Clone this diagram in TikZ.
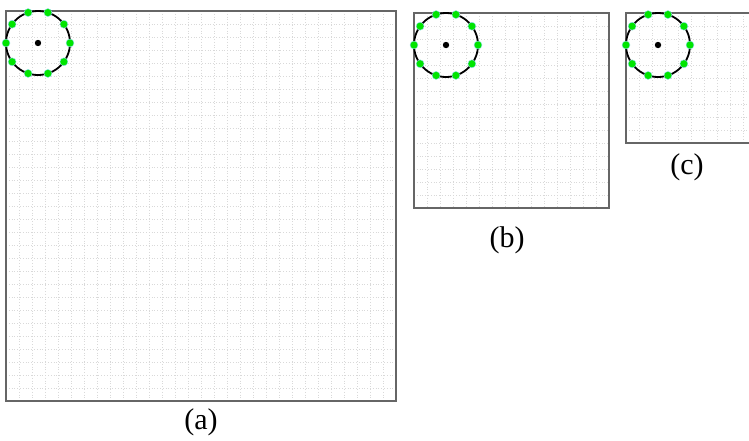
\documentclass[tikz,border=0pt]{standalone}
\usepackage{fontspec}
\setmainfont{Liberation Serif}

\tikzset{
  gridline/.style={gray!30,dotted,line width=.8pt},
  boxline/.style={gray!80!black,line width=1.4pt},
  ringline/.style={black,line width=1.8pt},
  greendot/.style={fill=green!90!black,draw=cyan!40,line width=.4pt},
  sublabel/.style={font=\fontsize{30}{34}\selectfont}
}

\begin{document}
\begin{tikzpicture}[x=1pt,y=-1pt]
    \clip (0,0) rectangle (749,440);
    % three grids of 13px cells: 30x30, 15x15, 10x10
    \foreach \bx/\by/\n/\lab/\lx/\ly in {6/11/30/a/201/422,414/13/15/b/507/240,626/13/10/c/687/167}{
      \pgfmathsetmacro\w{13*\n}
      \pgfmathtruncatemacro\m{\n-1}
      \foreach \i in {1,...,\m}{
        \draw[gridline] (\bx+13*\i,\by) -- ++(0,\w);
        \draw[gridline] (\bx,\by+13*\i) -- ++(\w,0);
      }
      \draw[boxline] (\bx,\by) rectangle ++(\w,\w);
      \coordinate (ctr\lab) at (\bx+32,\by+32);
      \draw[ringline] (ctr\lab) circle (32pt);
      \foreach \a in {0,36,...,324}
        \filldraw[greendot] ([shift={(\a:32pt)}]ctr\lab) circle (4pt);
      \fill (ctr\lab) circle (3.2pt);
      \node[sublabel] (lab\lab) at (\lx,\ly) {(\lab)};
    }
\end{tikzpicture}
\end{document}
